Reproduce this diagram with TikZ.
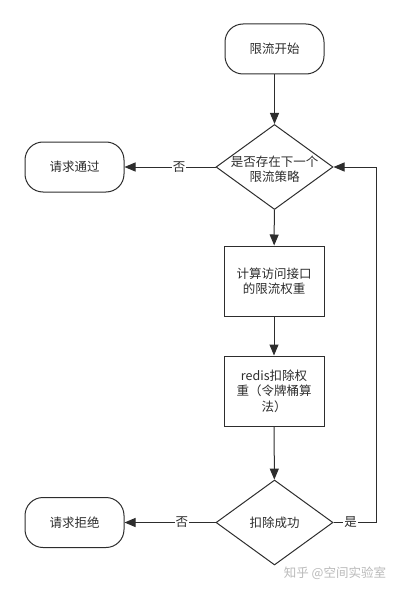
\documentclass[tikz,border=0pt]{standalone}
\usepackage{fontspec}
\setmainfont{Noto Sans CJK SC}
\usepackage{xcolor}
\usetikzlibrary{shapes.geometric, arrows.meta}
\definecolor{flowline}{RGB}{45, 45, 45}
\definecolor{markgray}{RGB}{185, 185, 185}

\begin{document}
\begin{tikzpicture}[x=1pt, y=-1pt,
    every node/.style={font=\fontsize{12.5}{15.5}\selectfont, text=flowline},
    terminal/.style={draw=flowline, line width=1pt, rounded corners=18pt, minimum width=99pt, minimum height=50pt},
    process/.style={draw=flowline, line width=1pt, minimum width=100pt, minimum height=70pt, align=center},
    decision/.style={draw=flowline, line width=1pt, diamond, minimum width=117pt, minimum height=85pt, inner sep=0pt},
    flow/.style={-{Triangle[length=11pt, width=9pt]}, draw=flowline, line width=1pt},
    answer/.style={fill=white, inner sep=1pt}]
    \useasboundingbox (0,0) rectangle (401,591);

    % Start
    \node[terminal] (start) at (274.5,49) {限流开始};

    % First check
    \node[decision, label={[align=center, yshift=-2pt]center:{是否存在下一个\\限流策略}}] (check) at (274.5,167) {};
    \node[terminal] (pass) at (74.5,167) {请求通过};

    % Weight and redis boxes
    \node[process] (weight) at (274,281) {计算访问接口\\的限流权重};
    \node[process] (deduct) at (274,391) {redis扣除权\\重（令牌桶算\\法）};

    % Second check
    \node[decision] (success) at (274.5,522.5) {扣除成功};
    \node[terminal] (reject) at (74.5,522.5) {请求拒绝};
    \coordinate (back) at (376,522.5);

    % Arrows
    \draw[flow] (start) -- (check);
    \draw[flow] (check) -- node[answer, pos=0.4] {否} (pass);
    \draw[flow] (check) -- (weight);
    \draw[flow] (weight) -- (deduct);
    \draw[flow] (deduct) -- (success);
    \draw[flow] (success) -- node[answer, pos=0.37] {否} (reject);
    \draw[flow] (success.east) -- node[answer, pos=0.4] {是} (back) |- (check.east);

    % Watermark
    \node[text=markgray] (mark) at (335,573) {知乎 @空间实验室};
\end{tikzpicture}
\end{document}
